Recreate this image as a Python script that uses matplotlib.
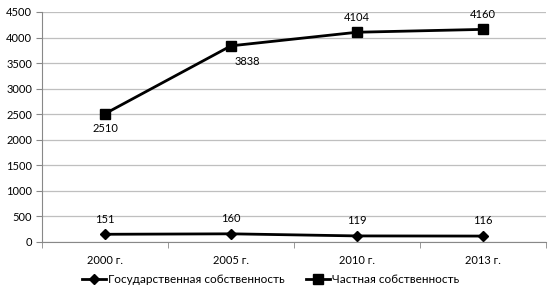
import matplotlib
matplotlib.use("Agg")
import matplotlib.pyplot as plt
from matplotlib.ticker import MultipleLocator

plt.rcParams['font.family'] = ['Lato', 'DejaVu Sans']

categories = ["2000 г.", "2005 г.", "2010 г.", "2013 г."]
state = [151, 160, 119, 116]
private = [2510, 3838, 4104, 4160]
state_name = "Государственная собственность"
private_name = "Частная собственность"

fig = plt.figure(figsize=(5.56, 2.94), dpi=100)
ax = fig.add_axes([42/556, 1 - 242/294, (546-42)/556, (242-12)/294])

fs = 8

x = list(range(len(categories)))
ax.plot(x, state, color='black', lw=2, marker='D', ms=5.5, label=state_name, clip_on=False)
ax.plot(x, private, color='black', lw=2, marker='s', ms=7, label=private_name, clip_on=False)

ax.set_xlim(-0.5, len(categories) - 0.5)
ax.set_ylim(0, 4500)
ax.yaxis.set_major_locator(MultipleLocator(500))
ax.grid(axis='y', color='#bfbfbf', lw=0.9)
ax.set_axisbelow(True)
ax.set_xticks(x)
ax.set_xticklabels(categories)
ax.set_xticks([i - 0.5 for i in range(len(categories) + 1)], minor=True)
ax.tick_params(axis='x', which='major', length=0, pad=9, labelsize=fs)
ax.tick_params(axis='x', which='minor', length=4, color='#888888', direction='out')
ax.tick_params(axis='y', length=4, color='#888888', labelsize=fs, pad=3)
for s in ['top', 'right']:
    ax.spines[s].set_visible(False)
ax.spines['left'].set_color('#888888')
ax.spines['bottom'].set_color('#888888')

for i, v in enumerate(state):
    ax.annotate(str(v), (i, v), xytext=(0, 7), textcoords='offset points', ha='center', va='bottom', fontsize=fs)
offsets = [(0, -7, 'center', 'top'), (12, -7, 'center', 'top'), (0, 7, 'center', 'bottom'), (0, 7, 'center', 'bottom')]
for i, v in enumerate(private):
    dx, dy, ha, va = offsets[i]
    ax.annotate(str(v), (i, v), xytext=(dx, dy), textcoords='offset points', ha=ha, va=va, fontsize=fs)

fig.legend(loc='lower center', bbox_to_anchor=(0.487, -0.005), ncol=2, frameon=False, fontsize=8.5,
           handlelength=2, columnspacing=1.8, handletextpad=0.2)

fig.savefig("out.png", dpi=100)
